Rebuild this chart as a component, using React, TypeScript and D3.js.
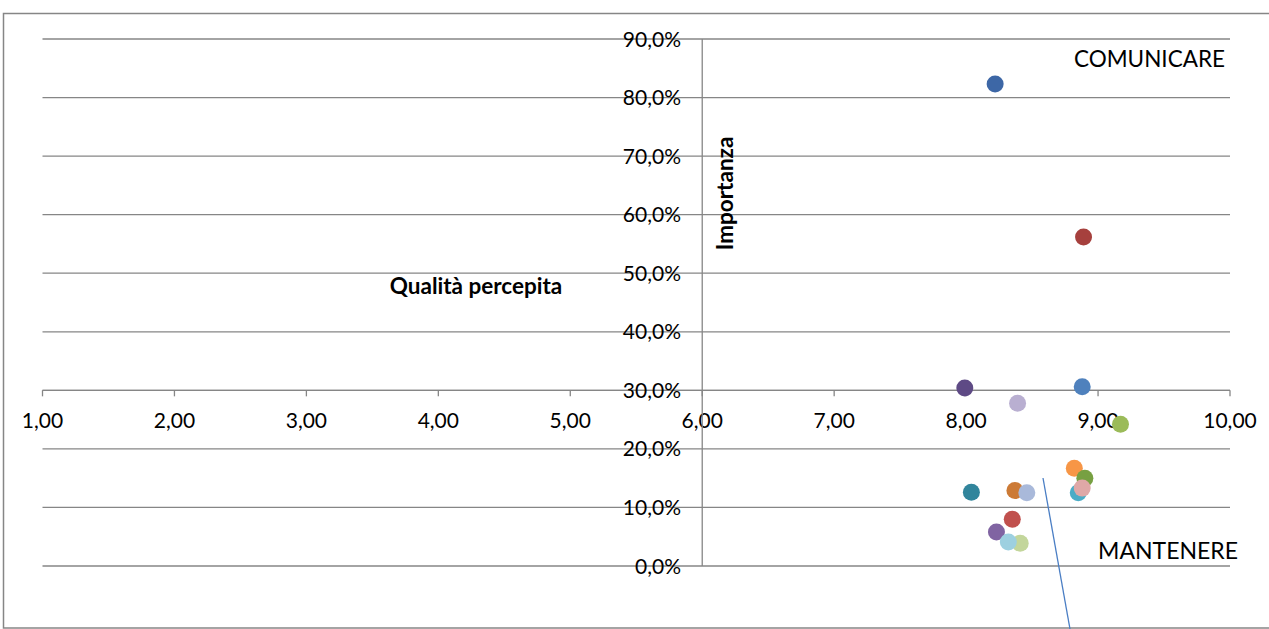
import React from "react";
import * as d3 from "d3";

const xTicks = [1, 2, 3, 4, 5, 6, 7, 8, 9, 10];
const yTicks = [0, 0.1, 0.2, 0.3, 0.4, 0.5, 0.6, 0.7, 0.8, 0.9];

// Qualità percepita (x) and Importanza (y) for each item
const quality = [8.22, 8.89, 7.99, 8.88, 8.39, 9.17, 8.82, 8.9, 8.85, 8.88, 8.04, 8.37, 8.46, 8.35, 8.23, 8.41, 8.32];
const importance = [0.823, 0.562, 0.304, 0.306, 0.278, 0.242, 0.167, 0.15, 0.125, 0.133, 0.126, 0.129, 0.125, 0.08, 0.058, 0.039, 0.041];
const palette = [
  "#3D67A6", "#A6403D", "#5E4A85", "#4F81BD", "#B9AFD1", "#9BBB59", "#F79646", "#77A042",
  "#4BACC6", "#DFA8A7", "#31859C", "#CC7A36", "#A9B9DA", "#C0504D", "#8064A2", "#C3D69B", "#9DD0E0",
];

const W = 1269;
const H = 629;
const gridColor = "#868686";
const font = "Lato, 'Open Sans', sans-serif";

export default function App() {
  const x = d3.scaleLinear().domain([1, 10]).range([42.5, 1230]);
  const y = d3.scaleLinear().domain([0, 0.9]).range([566, 39]);
  const fmtX = (v: number) => d3.format(".2f")(v).replace(".", ",");
  const fmtY = (v: number) => d3.format(".1f")(v * 100).replace(".", ",") + "%";
  const axisY = y(0.3);
  const axisX = x(6);

  return (
    <svg width={W} height={H} style={{ position: "absolute", left: 0, top: 0, background: "#fff" }}>
      <rect x={3.5} y={13.5} width={W + 10} height={H - 14.5} fill="#fff" stroke={gridColor} strokeWidth={1.5} />
      {/* horizontal gridlines */}
      {yTicks.map((t) => (
        <line key={"g" + t} x1={x(1)} x2={x(10)} y1={y(t)} y2={y(t)} stroke={gridColor} strokeWidth={1.3} />
      ))}
      {/* label boxes */}
      <rect x={1060} y={41} width={168} height={36} fill="#fff" />
      <rect x={1082} y={532} width={146} height={32} fill="#fff" />
      {/* x axis */}
      <line x1={x(1)} x2={x(10)} y1={axisY} y2={axisY} stroke={gridColor} strokeWidth={1.3} />
      {xTicks.map((t) => (
        <g key={"x" + t}>
          <line x1={x(t)} x2={x(t)} y1={axisY} y2={axisY + 6} stroke={gridColor} strokeWidth={1.3} />
          <text x={x(t)} y={axisY + 38} textAnchor="middle" fontFamily={font} fontSize={21} fill="#000">
            {fmtX(t)}
          </text>
        </g>
      ))}
      {/* y axis */}
      <line x1={axisX} x2={axisX} y1={y(0.9)} y2={y(0)} stroke={gridColor} strokeWidth={1.3} />
      {yTicks.map((t) => (
        <text key={"y" + t} x={681} y={y(t)} dy="0.36em" textAnchor="end" fontFamily={font} fontSize={21} fill="#000">
          {fmtY(t)}
        </text>
      ))}
      {/* axis titles */}
      <text x={476} y={294} textAnchor="middle" fontFamily={font} fontWeight="bold" fontSize={22.5} fill="#000">
        Qualità percepita
      </text>
      <text
        transform={`translate(733,193.5) rotate(-90)`}
        textAnchor="middle"
        fontFamily={font}
        fontWeight="bold"
        fontSize={22.5}
        fill="#000"
      >
        Importanza
      </text>
      {/* quadrant labels */}
      <text x={1225} y={67} textAnchor="end" fontFamily={font} fontSize={22.5} fill="#000">
        COMUNICARE
      </text>
      <text x={1238} y={559} textAnchor="end" fontFamily={font} fontSize={23} fill="#000">
        MANTENERE
      </text>
      {/* thin line */}
      <line x1={1043} y1={478} x2={1070} y2={629} stroke="#4A7EC4" strokeWidth={1.3} />
      {/* points */}
      {quality.map((q, i) => (
        <circle key={"p" + i} cx={x(q)} cy={y(importance[i])} r={8.5} fill={palette[i]} />
      ))}
    </svg>
  );
}
